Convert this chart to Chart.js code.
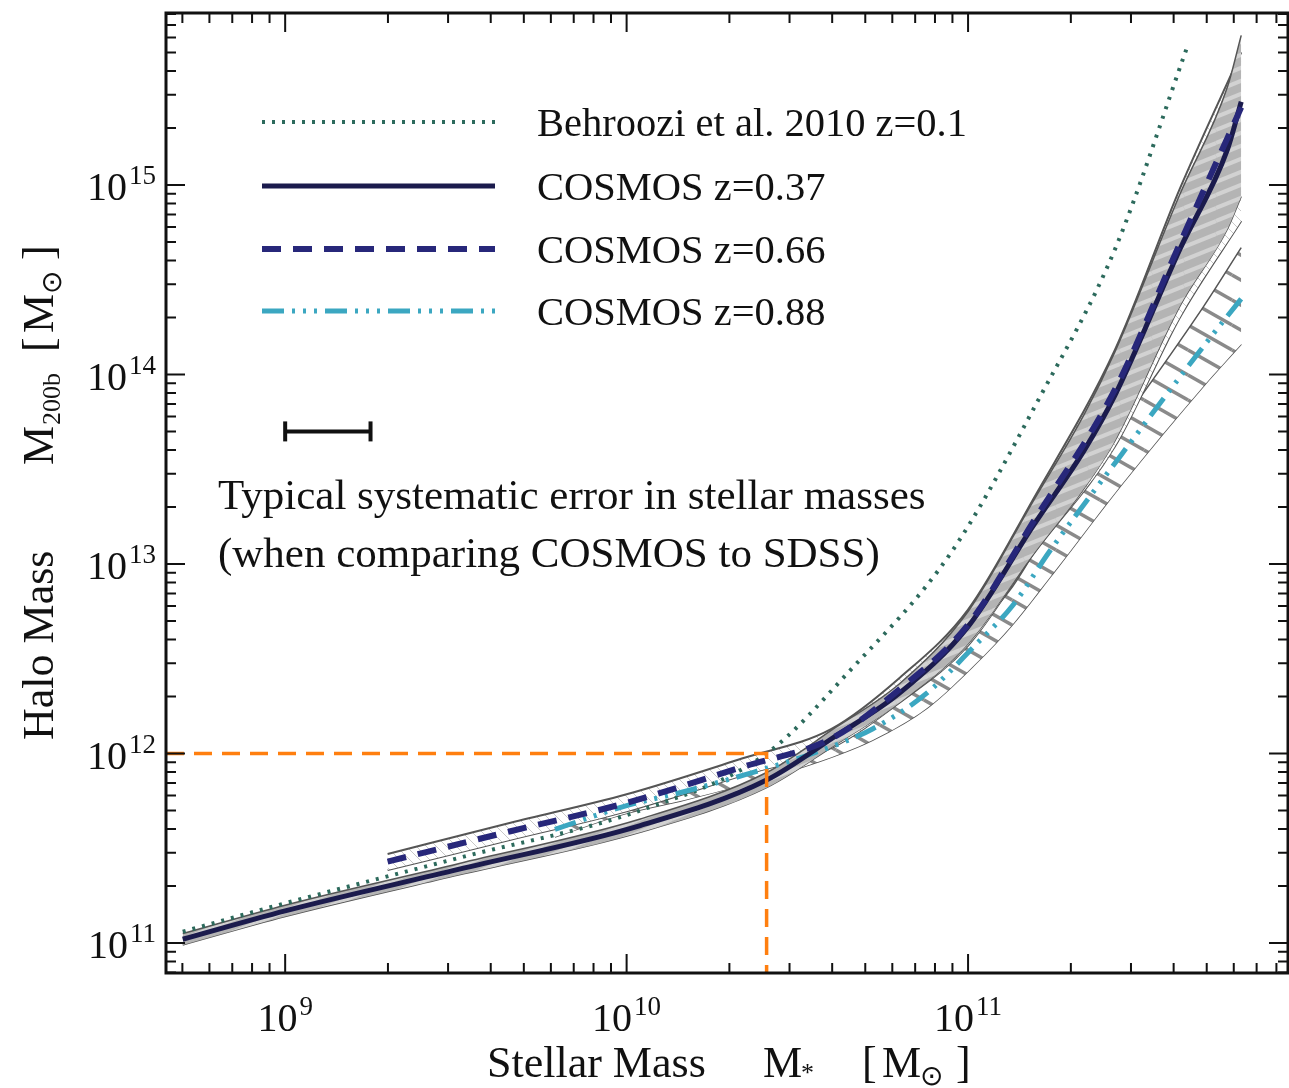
<!DOCTYPE html>
<html>
<head>
<meta charset="utf-8">
<title>Stellar-to-halo mass relation</title>
<script src="https://cdn.jsdelivr.net/npm/chart.js@4.4.1/dist/chart.umd.min.js"></script>
<style>
  html, body { margin: 0; padding: 0; background: #fff; overflow: hidden; }
  #box { position: relative; width: 1289px; height: 1088px; }
</style>
</head>
<body>
<div id="box"><canvas id="shmr"></canvas></div>
<script>
// all masses are log10(M / Msun)
const xLogMin = 8.651, xLogMax = 11.937;
const yLogMin = 10.842, yLogMax = 15.908;

const behrooziLogMs = [8.70, 9.00, 9.51, 10.04, 10.41, 10.65, 10.95, 11.21, 11.43, 11.64];
const behrooziLogMh = [11.06, 11.21, 11.45, 11.70, 12.00, 12.43, 13.06, 13.88, 14.66, 15.72];

const z037LogMs  = [8.70, 9.00, 9.51, 10.04, 10.41, 10.61, 10.80, 11.00, 11.19, 11.34, 11.43, 11.62, 11.76, 11.80];
const z037LogMh  = [11.02, 11.17, 11.39, 11.62, 11.86, 12.09, 12.32, 12.67, 13.20, 13.60, 13.89, 14.66, 15.19, 15.44];
const z037Upper  = [11.05, 11.20, 11.42, 11.655, 11.90, 12.135, 12.37, 12.75, 13.33, 13.79, 14.12, 14.95, 15.52, 15.79];
const z037Lower  = [10.99, 11.14, 11.36, 11.585, 11.82, 12.045, 12.27, 12.58, 13.05, 13.40, 13.65, 14.36, 14.77, 14.94];

const z066LogMs  = [9.30, 9.66, 10.00, 10.34, 10.60, 10.80, 11.00, 11.19, 11.43, 11.62, 11.80];
const z066LogMh  = [11.43, 11.59, 11.74, 11.93, 12.08, 12.34, 12.68, 13.22, 13.92, 14.69, 15.41];
const z066Upper  = [11.47, 11.635, 11.785, 11.975, 12.13, 12.40, 12.76, 13.34, 14.13, 14.98, 15.70];
const z066Lower  = [11.385, 11.545, 11.695, 11.885, 12.03, 12.27, 12.57, 13.05, 13.62, 14.30, 14.81];

const z088LogMs  = [9.79, 9.99, 10.17, 10.35, 10.56, 10.72, 10.88, 11.02, 11.13, 11.24, 11.45, 11.69, 11.80];
const z088LogMh  = [11.60, 11.72, 11.80, 11.89, 12.01, 12.13, 12.32, 12.57, 12.78, 13.07, 13.58, 14.15, 14.40];
const z088Upper  = [11.64, 11.76, 11.845, 11.94, 12.065, 12.19, 12.39, 12.65, 12.88, 13.20, 13.74, 14.36, 14.67];
const z088Lower  = [11.56, 11.68, 11.755, 11.84, 11.955, 12.07, 12.24, 12.47, 12.68, 12.93, 13.42, 13.94, 14.16];

// Mh = 1e12 crosshair and the stellar-mass systematic error bar
const guideLogMs = [xLogMin, 10.41, 10.41];
const guideLogMh = [12.0, 12.0, yLogMin];
const errLogMs = [9.0, 9.25];
const errLogMh = [13.7, 13.7];

const legendLabels = ['Behroozi et al. 2010 z=0.1', 'COSMOS z=0.37', 'COSMOS z=0.66', 'COSMOS z=0.88'];
const noteLines = ['Typical systematic error in stellar masses', '(when comparing COSMOS to SDSS)'];

const xMajor = [9, 10, 11];
const yMajor = [11, 12, 13, 14, 15];

function logTicks(lo, hi) {
  const out = [];
  for (let d = Math.floor(lo); d <= Math.ceil(hi); d++) {
    for (let m = 1; m < 10; m++) {
      const v = d + Math.log10(m);
      if (v >= lo && v <= hi) out.push({ v, major: m === 1 });
    }
  }
  return out;
}

const pts = (xs, ys) => xs.map((v, i) => ({ x: 10 ** v, y: 10 ** ys[i] }));

const canvas = document.getElementById('shmr');
const ctx0 = canvas.getContext('2d');

function hatch(w, h, bg, fg, lw, rising) {
  const c = document.createElement('canvas');
  c.width = w; c.height = h;
  const g = c.getContext('2d');
  if (bg) { g.fillStyle = bg; g.fillRect(0, 0, w, h); }
  g.strokeStyle = fg; g.lineWidth = lw;
  for (let i = -1; i <= 1; i++) {
    for (let j = -1; j <= 1; j++) {
      g.beginPath();
      if (rising) { g.moveTo(i * w, j * h + h); g.lineTo(i * w + w, j * h); }
      else { g.moveTo(i * w, j * h); g.lineTo(i * w + w, j * h + h); }
      g.stroke();
    }
  }
  return ctx0.createPattern(c, 'repeat');
}

const greyFill = hatch(32, 13, '#b4b4b4', '#d2d2d2', 4, true);
const whiteFill = hatch(10, 10, '#ffffff', '#c8c8c8', 1, false);
const cyanFill = hatch(44, 25, '#ffffff', '#8a8a8a', 3.5, false);

const NAVY = '#1b1b4d';
const NAVY2 = '#27277a';
const CYAN = '#3ba7c1';
const TEAL = '#2c6a5c';
const ORANGE = '#ff7f0f';
const EDGE = '#555555';

const band = (xs, ys, order, extra) => Object.assign({
  data: pts(xs, ys), borderColor: EDGE, borderWidth: 1.5, pointRadius: 0,
  cubicInterpolationMode: 'monotone', fill: false, order
}, extra || {});

const curve = (label, xs, ys, color, width, dash, order) => ({
  label, data: pts(xs, ys), borderColor: color, borderWidth: width, borderDash: dash,
  pointRadius: 0, cubicInterpolationMode: 'monotone', fill: false, order
});

const datasets = [
  band(z088LogMs, z088Lower, 30),
  band(z088LogMs, z088Upper, 29, { fill: '-1', backgroundColor: cyanFill }),
  band(z066LogMs, z066Lower, 28, { borderWidth: 2 }),
  band(z066LogMs, z066Upper, 27, { fill: '-1', backgroundColor: whiteFill, borderWidth: 2 }),
  band(z037LogMs, z037Lower, 26),
  band(z037LogMs, z037Upper, 25, { fill: '-1', backgroundColor: greyFill }),
  curve(legendLabels[0], behrooziLogMs, behrooziLogMh, TEAL, 4, [3, 7], 6),
  curve(legendLabels[1], z037LogMs, z037LogMh, NAVY, 5, [], 4),
  curve(legendLabels[2], z066LogMs, z066LogMh, NAVY2, 6, [19, 12], 3),
  curve(legendLabels[3], z088LogMs, z088LogMh, CYAN, 5, [22, 8, 3, 8, 3, 8, 3, 8], 5),
  {
    data: pts(guideLogMs, guideLogMh), borderColor: ORANGE, borderWidth: 3.5,
    borderDash: [18, 10], pointRadius: 0, tension: 0, fill: false, order: 2
  },
  {
    data: pts(errLogMs, errLogMh), borderColor: '#111', borderWidth: 4, tension: 0, fill: false,
    pointStyle: 'line', rotation: 90, pointRadius: 10, pointBorderWidth: 4,
    pointBorderColor: '#111', order: 1
  }
];
const legendSets = [6, 7, 8, 9];

const FONT = '"Liberation Serif", "Times New Roman", serif';

function text(ctx, str, x, y, size, align) {
  ctx.font = size + 'px ' + FONT;
  ctx.textAlign = align || 'left';
  ctx.fillText(str, x, y);
  return ctx.measureText(str).width;
}

// "10" with a raised exponent, anchored by its centre (x axis) or right edge (y axis)
function powerLabel(ctx, exp, x, baseline, anchor) {
  ctx.font = '40px ' + FONT;
  const wb = ctx.measureText('10').width;
  ctx.font = '27px ' + FONT;
  const we = ctx.measureText(String(exp)).width;
  const total = wb + 2 + we;
  const left = anchor === 'center' ? x - total / 2 : x - total;
  text(ctx, '10', left, baseline, 40);
  text(ctx, String(exp), left + wb + 2, baseline - 16, 27);
}

const decorations = {
  id: 'decorations',
  afterDatasetsDraw(chart) {
    const { ctx, chartArea: a, scales } = chart;
    const sx = scales.x, sy = scales.y;
    ctx.save();
    ctx.fillStyle = '#111';
    ctx.strokeStyle = '#111';

    // inward ticks on all four sides
    ctx.lineWidth = 2;
    logTicks(xLogMin, xLogMax).forEach(t => {
      const px = sx.getPixelForValue(10 ** t.v);
      const len = t.major ? 19 : 10;
      ctx.beginPath();
      ctx.moveTo(px, a.bottom); ctx.lineTo(px, a.bottom - len);
      ctx.moveTo(px, a.top); ctx.lineTo(px, a.top + len);
      ctx.stroke();
    });
    logTicks(yLogMin, yLogMax).forEach(t => {
      const py = sy.getPixelForValue(10 ** t.v);
      const len = t.major ? 19 : 10;
      ctx.beginPath();
      ctx.moveTo(a.left, py); ctx.lineTo(a.left + len, py);
      ctx.moveTo(a.right, py); ctx.lineTo(a.right - len, py);
      ctx.stroke();
    });
    ctx.lineWidth = 3;
    ctx.strokeRect(a.left, a.top, a.right - a.left, a.bottom - a.top);

    // tick labels
    ctx.textBaseline = 'alphabetic';
    xMajor.forEach(e => powerLabel(ctx, e, sx.getPixelForValue(10 ** e), a.bottom + 58, 'center'));
    yMajor.forEach(e => powerLabel(ctx, e, a.left - 10, sy.getPixelForValue(10 ** e) + 15, 'right'));

    // axis titles
    const xb = 1077;
    text(ctx, 'Stellar Mass', 487, xb, 44);
    text(ctx, 'M', 763, xb, 44);
    text(ctx, '*', 801, xb + 4, 26);
    text(ctx, '[', 862, xb, 44);
    text(ctx, 'M', 882, xb, 44);
    text(ctx, '\u2299', 920, xb + 8, 28);
    text(ctx, ']', 956, xb, 44);

    ctx.save();
    ctx.translate(53, 740);
    ctx.rotate(-Math.PI / 2);
    text(ctx, 'Halo Mass', 0, 0, 44);
    text(ctx, 'M', 275, 0, 44);
    text(ctx, '200b', 315, 7, 26);
    text(ctx, '[', 388, 0, 44);
    text(ctx, 'M', 407, 0, 44);
    text(ctx, '\u2299', 446, 8, 28);
    text(ctx, ']', 480, 0, 44);
    ctx.restore();

    // legend
    const rows = [122, 186, 249, 311];
    legendSets.forEach((idx, i) => {
      const ds = chart.data.datasets[idx];
      ctx.save();
      ctx.strokeStyle = ds.borderColor;
      ctx.lineWidth = ds.borderWidth;
      ctx.setLineDash(ds.borderDash);
      ctx.beginPath();
      ctx.moveTo(262, rows[i]); ctx.lineTo(495, rows[i]);
      ctx.stroke();
      ctx.restore();
      text(ctx, ds.label, 537, rows[i] + 14, 40.5);
    });

    // note under the error bar
    text(ctx, noteLines[0], 218, 509, 43);
    text(ctx, noteLines[1], 218, 567, 43);
    ctx.restore();
  }
};

new Chart(canvas, {
  type: 'line',
  data: { datasets },
  options: {
    responsive: true,
    maintainAspectRatio: false,
    animation: false,
    layout: { autoPadding: false, padding: { left: 166, top: 13, right: 1, bottom: 115 } },
    plugins: { legend: { display: false }, tooltip: { enabled: false } },
    scales: {
      x: { type: 'logarithmic', display: false, bounds: 'data', min: 10 ** xLogMin, max: 10 ** xLogMax },
      y: { type: 'logarithmic', display: false, bounds: 'data', min: 10 ** yLogMin, max: 10 ** yLogMax }
    }
  },
  plugins: [decorations]
});
</script>
</body>
</html>
